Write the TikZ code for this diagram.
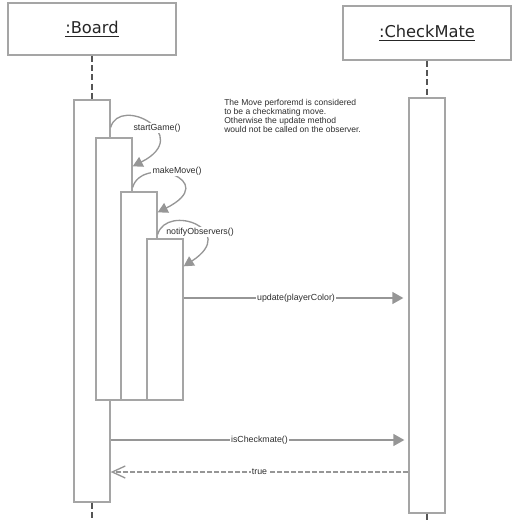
\documentclass[tikz,border=0pt]{standalone}
\usepackage{fontspec}
\setmainfont{Liberation Sans}
\newfontfamily\headfont{DejaVu Sans}
\usetikzlibrary{arrows.meta,calc}
\definecolor{linegray}{RGB}{165,165,165}
\definecolor{msggray}{RGB}{150,150,150}
\definecolor{lifegray}{RGB}{85,85,85}
\definecolor{textgray}{RGB}{45,45,45}

\begin{document}
\begin{tikzpicture}[x=0.75pt,y=0.75pt,yscale=-1,xscale=1,
  head/.style={draw=linegray,line width=1pt,fill=white,minimum width=126pt,inner sep=0pt,font=\headfont\fontsize{12.2}{14}\selectfont,text=black!85},
  act/.style={draw=linegray,line width=1pt,fill=white,minimum width=27pt,inner sep=0pt},
  life/.style={draw=lifegray,line width=2pt,dash pattern=on 4.5pt off 2.5pt},
  msg/.style={draw=msggray,line width=1pt,-{Triangle[length=8.25pt,width=9pt]}},
  call/.style={draw=msggray,line width=1pt,-{Triangle[length=7.5pt,width=8pt]}},
  ret/.style={draw=msggray,line width=1pt,dash pattern=on 3.75pt off 1.5pt,-{Straight Barb[length=9.75pt,width=9pt]}},
  lbl/.style={fill=white,inner sep=1pt,font=\fontsize{6.6}{7}\selectfont,text=textgray}]
\useasboundingbox (0,0) rectangle (526,521);

% Heads
\node[head,minimum height=39pt] (board) at (92,29) {\underline{:Board}};
\node[head,minimum height=40.5pt] (mate) at (427,33) {\underline{:CheckMate}};

% Activations
\node[act,minimum height=301.5pt] (actB) at (92,301) {};
\node[act,minimum height=196.5pt] (act2) at (114,269) {};
\node[act,minimum height=156pt] (act3) at (139,296) {};
\node[act,minimum height=120.75pt] (act4) at (165,319.5) {};
\node[act,minimum height=311.25pt] (actC) at (427,305.5) {};

% Lifelines
\coordinate (boardEnd) at (92,521);
\coordinate (mateEnd) at (427,521);
\draw[life] (board.south) -- (actB.north);
\draw[life] (actB.south) -- (boardEnd);
\draw[life] (mate.south) -- (actC.north);
\draw[life] (actC.south) -- (mateEnd);

% Self calls
\draw[call] ($(act2.north -| actB.east)+(0,-10)$) .. controls (120,95) and (195,135) .. ($(act2.north east)+(0,29)$);
\draw[call] ($(act3.north -| act2.east)+(0,-4)$) .. controls (142,155) and (222,180) .. ($(act3.north east)+(0,21)$);
\draw[call] ($(act4.north -| act3.east)+(0,-4)$) .. controls (167,203) and (240,230) .. ($(act4.north east)+(0,28)$);

% Text Node
\node[lbl] (sgLbl) at (157,128) {startGame()};
% Text Node
\node[lbl] (mmLbl) at (177,171) {makeMove()};
% Text Node
\node[lbl] (noLbl) at (200,232) {notifyObservers()};

% Messages
\coordinate (updY) at (0,298);
\coordinate (chkY) at (0,440);
\coordinate (retY) at (0,472);
\draw[msg,shorten >=3.75pt] (act4.east |- updY) -- node[lbl] (updLbl) {update(playerColor)} (actC.west |- updY);
\draw[msg,shorten >=3pt] (actB.east |- chkY) -- node[lbl] (chkLbl) {isCheckmate()} (actC.west |- chkY);
\draw[ret] (actC.west |- retY) -- node[lbl] (retLbl) {true} (actB.east |- retY);

% Text Node
\node[anchor=north west,align=left,inner sep=0pt,font=\fontsize{6.4}{6.7}\selectfont,text=textgray] (note) at (224,99) {The Move perforemd is considered\\to be a checkmating move.\\Otherwise the update method\\would not be called on the observer.};

\end{tikzpicture}
\end{document}
